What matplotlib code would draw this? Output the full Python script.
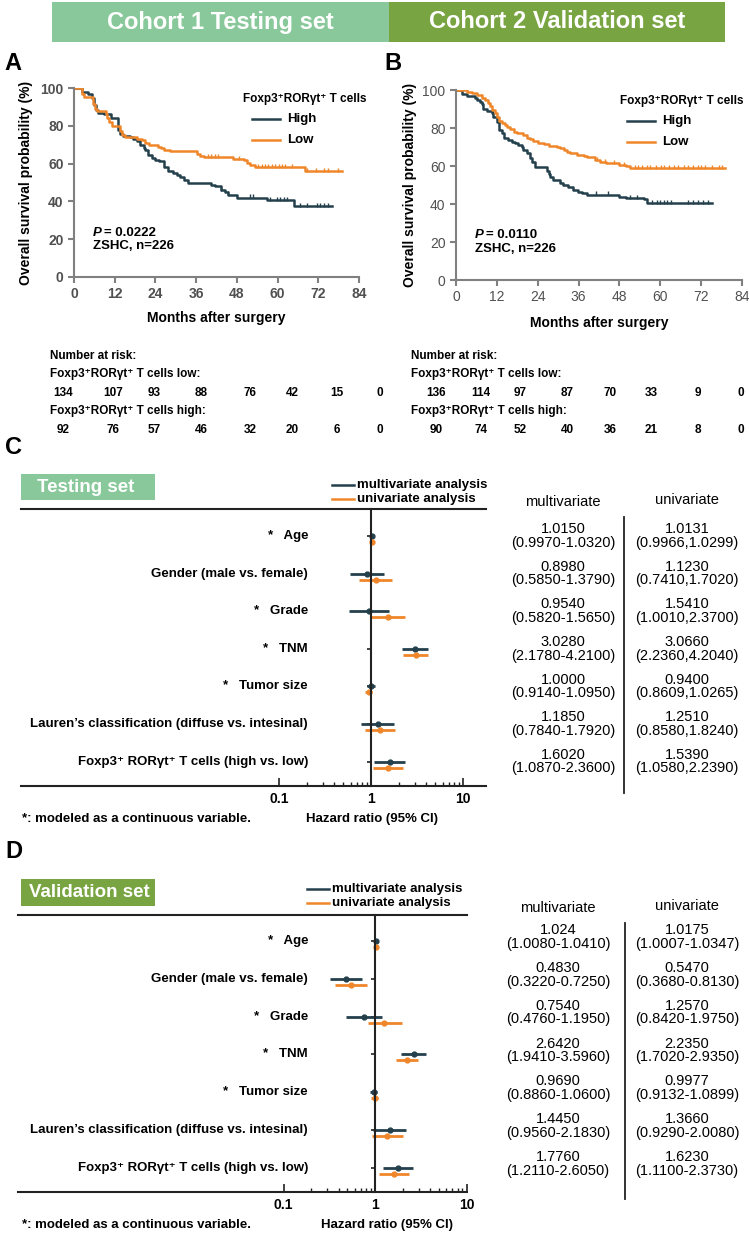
import numpy as np
import matplotlib
matplotlib.use('Agg')
import matplotlib.pyplot as plt
from matplotlib.patches import Rectangle
from matplotlib.lines import Line2D
from matplotlib.ticker import NullFormatter

plt.rcParams['font.family'] = ['Liberation Sans', 'DejaVu Sans']

# ---- Kaplan-Meier data ----
# Cohort 1 (panel A)
a_high_t = [0, 2.3, 4.2, 5.2, 5.9, 6.5, 7.2, 8.7, 9.6, 11, 13, 13.5, 14.5, 16.5, 17.5, 18.5, 19.5,
            20.5, 21, 21.9, 23, 23.9, 25, 26.4, 27.8, 29.3, 30.3, 31.3, 32.3, 33.7, 38, 40.5, 41.5,
            43.4, 44.5, 45.5, 48, 56.8, 64.8]
a_high_s = [100, 98, 97, 94.5, 91, 88.5, 87, 86.5, 86, 84, 78, 75.6, 74.5, 74, 73, 72, 70,
            68, 67, 64.5, 63, 62, 61.5, 58, 56, 55, 54, 52.7, 51.3, 50, 49.5, 48.8, 47.9,
            46.2, 44.8, 43.6, 42, 40.5, 37.7]
a_high_end = 76
a_high_cens = [43.4, 45.5, 51.8, 52.8, 57.8, 59.8, 60.8, 61.8, 62.8, 66.6, 68.6, 71.6, 72.6, 73.6, 75]

a_low_t = [0, 2.5, 3, 5.7, 6.2, 6.7, 9.4, 9.8, 10.3, 11.3, 13.6, 14.1, 15, 18.5, 20, 21, 22,
           24.9, 25.5, 26.4, 28.3, 36.2, 37.2, 38.2, 47, 50, 51, 51.8, 53.3, 68]
a_low_s = [100, 97, 95.5, 91.5, 89, 88, 86.5, 84, 82, 80, 77, 75, 74, 73, 72.5, 71, 70,
           69, 68, 67, 66.8, 65, 64, 63.5, 62.4, 61.8, 60.4, 59, 58, 56]
a_low_end = 79
a_low_cens = [39.5, 40.5, 41.5, 42.5, 48.7, 54.3, 55.3, 56.3, 57.3, 58.3, 59.3, 60.3, 61.3, 62.3,
              64.3, 68.8, 71.3, 73.8, 74.8, 77.8]

# Cohort 2 (panel B)
b_high_t = [0, 1.7, 3.1, 5.6, 6.3, 7, 7.5, 8, 9, 10.5, 11, 12, 12.5, 13.4, 14, 15.4, 16.4, 17.4,
            18.3, 19.3, 19.8, 20.8, 21.8, 22.3, 23.2, 26.7, 27.2, 27.6, 28.5, 30.5, 31.5, 32.8,
            34.5, 35.8, 37, 38.5, 45.3, 47.8, 50, 55.1, 56.1]
b_high_s = [100, 98, 96.8, 96, 95, 93.8, 92.6, 89.8, 89, 88, 85.6, 83, 78.9, 77.5, 74.5, 73.7,
            72.8, 72.3, 71, 70, 68.4, 66.7, 64, 62.3, 59.3, 57.5, 56, 54.4, 52.6, 51, 50, 49,
            47.5, 46.5, 45.6, 45, 44.7, 43.9, 43.2, 42.5, 40.4]
b_high_end = 75.1
b_high_cens = [41, 44.5, 51.2, 53.2, 57.5, 59, 60, 61, 62, 63, 68.2, 69.7, 71.1, 72.6, 74.1]

b_low_t = [0, 3.1, 4.6, 6.1, 7.5, 8.5, 9.5, 10, 10.5, 11.5, 12, 12.5, 13.4, 14.4, 15, 15.9,
           16.9, 17.8, 19.8, 20.8, 21.8, 22.7, 24.2, 25.7, 27.2, 29.6, 30.6, 31.6, 32.6, 33.5,
           35.5, 37.5, 38.5, 40.9, 42.4, 44, 47.8, 49.8, 51.2]
b_low_s = [100, 99, 98.2, 97.4, 96, 94.7, 93, 91.6, 89.5, 87.7, 85.6, 83.9, 82.5, 81.6, 80.7,
           79.3, 78, 77.5, 76.3, 75, 74, 73.2, 72.3, 71.6, 70.7, 70.2, 69.3, 68.4, 67.5, 66.7,
           65.8, 65.3, 64.5, 63, 62.1, 61.4, 60.5, 60, 59.1]
b_low_end = 79
b_low_cens = [41.4, 43.9, 46.3, 49.3, 52.6, 53.6, 54.6, 56.1, 57.1, 58.6, 60.1, 61.1, 62.6, 64.1,
              65.1, 67.1, 68.1, 69.6, 71.1, 72.1, 73.1, 75.1, 77.1, 78.1]

# number at risk
risk_a_low = [134, 107, 93, 88, 76, 42, 15, 0]
risk_a_high = [92, 76, 57, 46, 32, 20, 6, 0]
risk_b_low = [136, 114, 97, 87, 70, 33, 9, 0]
risk_b_high = [90, 74, 52, 40, 36, 21, 8, 0]

# ---- Forest plot data ----
variables = ["Age", "Gender (male vs. female)", "Grade", "TNM", "Tumor size",
             "Lauren\u2019s classification (diffuse vs. intesinal)",
             "Foxp3\u207a ROR\u03b3t\u207a T cells (high vs. low)"]
continuous = [True, False, True, True, True, False, False]

c_multi_hr = [1.0150, 0.8980, 0.9540, 3.0280, 1.0000, 1.1850, 1.6020]
c_multi_lo = [0.9970, 0.5850, 0.5820, 2.1780, 0.9140, 0.7840, 1.0870]
c_multi_hi = [1.0320, 1.3790, 1.5650, 4.2100, 1.0950, 1.7920, 2.3600]
c_uni_hr = [1.0131, 1.1230, 1.5410, 3.0660, 0.9400, 1.2510, 1.5390]
c_uni_lo = [0.9966, 0.7410, 1.0010, 2.2360, 0.8609, 0.8580, 1.0580]
c_uni_hi = [1.0299, 1.7020, 2.3700, 4.2040, 1.0265, 1.8240, 2.2390]

d_multi_hr = [1.024, 0.4830, 0.7540, 2.6420, 0.9690, 1.4450, 1.7760]
d_multi_lo = [1.0080, 0.3220, 0.4760, 1.9410, 0.8860, 0.9560, 1.2110]
d_multi_hi = [1.0410, 0.7250, 1.1950, 3.5960, 1.0600, 2.1830, 2.6050]
d_uni_hr = [1.0175, 0.5470, 1.2570, 2.2350, 0.9977, 1.3660, 1.6230]
d_uni_lo = [1.0007, 0.3680, 0.8420, 1.7020, 0.9132, 0.9290, 1.1100]
d_uni_hi = [1.0347, 0.8130, 1.9750, 2.9350, 1.0899, 2.0080, 2.3730]

DARK = '#24404c'
ORANGE = '#f0862a'
GREEN1 = '#88c89a'
GREEN2 = '#79a442'

W, H = 749, 1233
fig = plt.figure(figsize=(W / 100, H / 100), dpi=100)


def box(l, t, r, b):
    return [l / W, 1 - b / H, (r - l) / W, (b - t) / H]


def ftxt(x, y, s, **kw):
    kw.setdefault('va', 'center')
    return fig.text(x / W, 1 - y / H, s, **kw)


def fline(x0, x1, y0, y1, **kw):
    fig.add_artist(Line2D([x0 / W, x1 / W], [1 - y0 / H, 1 - y1 / H], transform=fig.transFigure, **kw))


def frect(l, t, r, b, color):
    fig.add_artist(Rectangle((l / W, 1 - b / H), (r - l) / W, (b - t) / H,
                             transform=fig.transFigure, color=color, lw=0))


NARROW = ['Liberation Sans Narrow', 'Liberation Sans', 'DejaVu Sans']

# ---- top banners ----
frect(52, 2, 389, 42, GREEN1)
frect(389, 2, 725, 42, GREEN2)
ftxt(220, 22, "Cohort 1 Testing set", ha='center', color='white', fontsize=17, fontweight='bold', family=NARROW)
ftxt(557, 22, "Cohort 2 Validation set", ha='center', color='white', fontsize=17, fontweight='bold', family=NARROW)


def step_at(t, s, c):
    i = np.searchsorted(t, c, side='right') - 1
    return np.array(s)[i]


def km_panel(rect, curves, pval, bold_ticks, ylab_x, xlab_y):
    ax = fig.add_axes(box(*rect))
    for t, s, end, cens, col in curves:
        tt = list(t) + [end]
        ss = list(s) + [s[-1]]
        ax.step(tt, ss, where='post', color=col, lw=1.8)
        ax.plot(cens, step_at(t, s, cens) + 0.6, ls='none', marker='|', ms=3.5, mew=1, color=col)
    ax.set_xlim(0, 84)
    ax.set_ylim(0, 100)
    ax.set_xticks(range(0, 85, 12))
    ax.set_yticks(range(0, 101, 20))
    for sp in ['top', 'right']:
        ax.spines[sp].set_visible(False)
    for sp in ['left', 'bottom']:
        ax.spines[sp].set_color('#808080')
        ax.spines[sp].set_linewidth(1.5)
    ax.tick_params(colors='#808080', labelcolor='#505050', width=1.5, length=4, labelsize=10)
    for lab in ax.get_xticklabels() + ax.get_yticklabels():
        lab.set_fontweight('bold' if bold_ticks else 'normal')
    ax.set_xlabel("Months after surgery", fontsize=10, fontweight='bold')
    ax.set_ylabel("Overall survival probability (%)", fontsize=10, fontweight='bold')
    l, t, r, b = rect
    ax.xaxis.set_label_coords(0.5, (b - xlab_y) / (b - t))
    ax.yaxis.set_label_coords((ylab_x - l) / (r - l), 0.5)
    ax.text(0.067, 0.235, "P", transform=ax.transAxes, fontsize=9.5, fontweight='bold',
            fontstyle='italic', va='center')
    ax.text(0.105, 0.235, "= " + pval, transform=ax.transAxes, fontsize=9.5, fontweight='bold', va='center')
    ax.text(0.067, 0.165, "ZSHC, n=226", transform=ax.transAxes, fontsize=9.5, fontweight='bold', va='center')
    return ax


km_panel((74, 88, 359, 277),
         [(a_high_t, a_high_s, a_high_end, a_high_cens, DARK),
          (a_low_t, a_low_s, a_low_end, a_low_cens, ORANGE)], "0.0222", True, 33, 311)
km_panel((456, 90, 742, 280),
         [(b_high_t, b_high_s, b_high_end, b_high_cens, DARK),
          (b_low_t, b_low_s, b_low_end, b_low_cens, ORANGE)], "0.0110", False, 417, 316)

# KM legends
for (tx, ty, lx) in [(243, 99, 252), (620, 101, 627)]:
    ftxt(tx, ty, "Foxp3\u207aROR\u03b3t\u207a T cells", fontsize=8.5, fontweight='bold')
    fline(lx, lx + 28, ty + 20, ty + 20, color=DARK, lw=1.8)
    ftxt(lx + 35, ty + 20, "High", fontsize=9.5, fontweight='bold')
    fline(lx, lx + 28, ty + 41, ty + 41, color=ORANGE, lw=1.8)
    ftxt(lx + 35, ty + 41, "Low", fontsize=9.5, fontweight='bold')

# panel letters
ftxt(13, 64, "A", fontsize=17, fontweight='bold', ha='center')
ftxt(393, 64, "B", fontsize=17, fontweight='bold', ha='center')
ftxt(13, 447, "C", fontsize=17, fontweight='bold', ha='center')
ftxt(14, 852, "D", fontsize=17, fontweight='bold', ha='center')

# number at risk tables
risk_xa = [63, 113, 154, 201, 250, 292, 337, 380]
risk_xb = [436, 481, 520, 567, 610, 651, 698, 741]
for lx, xs, low, high in [(50, risk_xa, risk_a_low, risk_a_high), (411, risk_xb, risk_b_low, risk_b_high)]:
    ftxt(lx, 356, "Number at risk:", fontsize=8.5, family=NARROW, fontweight='bold')
    ftxt(lx, 374, "Foxp3\u207aROR\u03b3t\u207a T cells low:", fontsize=8.5, family=NARROW, fontweight='bold')
    ftxt(lx, 411, "Foxp3\u207aROR\u03b3t\u207a T cells high:", fontsize=8.5, family=NARROW, fontweight='bold')
    for x, v in zip(xs, low):
        ftxt(x, 393, str(v), fontsize=8.5, family=NARROW, fontweight='bold', ha='center')
    for x, v in zip(xs, high):
        ftxt(x, 430, str(v), fontsize=8.5, family=NARROW, fontweight='bold', ha='center')


def forest(top, bottom, left, right, x_one, decade, row0, pitch, multi, uni,
           title, title_col, title_box, title_x, leg_x, leg_y, tab_x, tab_sep, tab_off,
           uni_sep, hr_x, multi_fmt):
    n = len(variables)
    ylo = (top - row0) / pitch
    yhi = (bottom - row0) / pitch
    ax = fig.add_axes(box(left, top, right, bottom))
    ax.set_xscale('log')
    ax.set_xlim(10 ** ((left - x_one) / decade), 10 ** ((right - x_one) / decade))
    ax.set_ylim(yhi, ylo)
    off = 6 / pitch
    rows = np.arange(n)
    for (hr, lo, hi), col, dy in [(multi, DARK, 0), (uni, ORANGE, off)]:
        ax.hlines(rows + dy, lo, hi, color=col, lw=2)
        ax.plot(hr, rows + dy, 'o', color=col, ms=3.5)
    ax.spines['right'].set_visible(False)
    ax.spines['left'].set_position(('data', 1))
    for sp in ['left', 'top', 'bottom']:
        ax.spines[sp].set_linewidth(1.5)
        ax.spines[sp].set_color('#222222')
    ax.set_yticks(rows)
    ax.set_yticklabels([])
    ax.tick_params(axis='y', length=3, width=1.2, color='#222222')
    ax.set_xticks([0.1, 1, 10])
    ax.set_xticklabels(["0.1", "1", "10"], fontweight='bold', fontsize=10)
    ax.set_xticks([k * 0.1 for k in range(2, 10)] + list(range(2, 10)), minor=True)
    ax.xaxis.set_minor_formatter(NullFormatter())
    ax.tick_params(axis='x', which='major', direction='in', length=6, width=1.2, pad=4, color='#222222')
    ax.tick_params(axis='x', which='minor', direction='in', length=3, width=1, color='#222222')

    # row labels
    for i, (v, c) in enumerate(zip(variables, continuous)):
        lab = "*   " + v if c else v
        ftxt(308, row0 + i * pitch, lab, fontsize=9.5, fontweight='bold', ha='right')

    # title box
    frect(*title_box, title_col)
    ftxt(title_x, (title_box[1] + title_box[3]) / 2, title, color='white',
         fontsize=13.5, fontweight='bold')
    # legend
    fline(leg_x, leg_x + 22, leg_y, leg_y, color=DARK, lw=1.8)
    ftxt(leg_x + 25, leg_y, "multivariate analysis", fontsize=9.5, fontweight='bold')
    fline(leg_x, leg_x + 22, leg_y + 14, leg_y + 14, color=ORANGE, lw=1.8)
    ftxt(leg_x + 25, leg_y + 14, "univariate analysis", fontsize=9.5, fontweight='bold')

    # table
    ftxt(tab_x[0], top - 7, "multivariate", fontsize=10.5, ha='center')
    ftxt(tab_x[1], top - 9, "univariate", fontsize=10.5, ha='center')
    fline(tab_sep, tab_sep, top + 8, bottom + 7, color='#222222', lw=1.3)
    for i in range(n):
        y = row0 + i * pitch + tab_off
        ftxt(tab_x[0], y, "%s\n(%.4f-%.4f)" % (multi_fmt[i], multi[1][i], multi[2][i]),
             fontsize=10.5, ha='center', linespacing=0.95)
        ftxt(tab_x[1], y, "%.4f\n(%.4f%s%.4f)" % (uni[0][i], uni[1][i], uni_sep, uni[2][i]),
             fontsize=10.5, ha='center', linespacing=0.95)

    # footnotes
    ftxt(22, bottom + 33, "*: modeled as a continuous variable.", fontsize=9.5, fontweight='bold')
    ftxt(hr_x, bottom + 33, "Hazard ratio (95% CI)", fontsize=9.5, fontweight='bold', ha='center')
    return ax


c_fmt = ["%.4f" % v for v in c_multi_hr]
d_fmt = ["%.3f" % d_multi_hr[0]] + ["%.4f" % v for v in d_multi_hr[1:]]

forest(509, 786, 21, 486, 371, 92, 536, 37.6,
       (c_multi_hr, c_multi_lo, c_multi_hi), (c_uni_hr, c_uni_lo, c_uni_hi),
       "Testing set", GREEN1, (21, 474, 155, 500), 37, 332, 485, (563, 687), 624, 0, ",", 372, c_fmt)
forest(915, 1192, 18, 467, 375, 91.5, 941, 37.8,
       (d_multi_hr, d_multi_lo, d_multi_hi), (d_uni_hr, d_uni_lo, d_uni_hi),
       "Validation set", GREEN2, (21, 879, 155, 906), 29, 307, 889, (558, 687), 625, -4, "-", 387, d_fmt)

fig.savefig('out.png', dpi=100)
